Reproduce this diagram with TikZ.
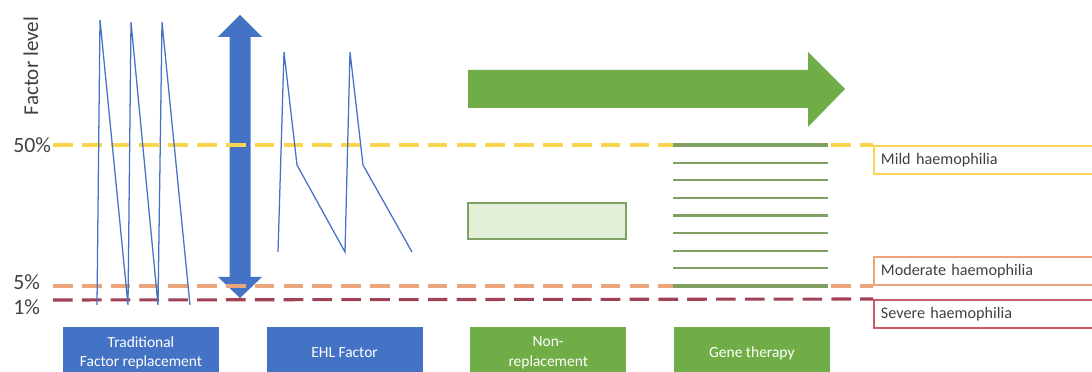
\documentclass[tikz,border=0pt]{standalone}
\usepackage{fontspec}
\setmainfont{Carlito}
\usetikzlibrary{positioning}
\definecolor{barblue}{HTML}{4472C4}
\definecolor{bargreen}{HTML}{70AD47}
\definecolor{palegreen}{HTML}{E2EFD9}
\definecolor{stripgreen}{RGB}{128,160,98}
\definecolor{mildyellow}{RGB}{250,214,80}
\definecolor{modorange}{RGB}{235,165,125}
\definecolor{sevred}{RGB}{160,65,85}
\definecolor{sevbox}{RGB}{200,90,100}
\definecolor{labelgray}{HTML}{404040}
\tikzstyle{catbox} = [minimum width=3.9cm, minimum height=1.3cm, inner sep=0pt,
    text=white, align=center, font=\fontsize{11}{14}\selectfont]
\tikzstyle{levelbox} = [line width=1.1pt, fill=white, anchor=north west,
    text width=6cm, minimum height=0.7cm, inner xsep=0.18cm, align=left,
    text=labelgray, font=\fontsize{11.5}{13}\selectfont]
\tikzstyle{pct} = [anchor=west, inner sep=0pt, text=labelgray,
    font=\fontsize{15.5}{17}\selectfont]
\tikzstyle{levelline} = [line width=2.2pt, dash pattern=on 14pt off 6.5pt]
\tikzstyle{trace} = [barblue, line width=0.9pt]
\tikzstyle{strip} = [stripgreen, line width=1.5pt]

\begin{document}
\begin{tikzpicture}[x=0.025cm, y=-0.025cm]
    \useasboundingbox (0,0) rectangle (1092,372);
    \clip (0,0) rectangle (1092,372);
    % axis labels
    \node [rotate=90, text=labelgray, font=\fontsize{15}{17}\selectfont] (ylabel) at (31,66) {Factor level};
    \node [pct] (p50) at (13,145) {50\%};
    \node [pct] (p5) at (13,282) {5\%};
    \node [pct] (p1) at (13,307) {1\%};
    % range arrow
    \fill [barblue] (240,15) -- (262,37) -- (250.5,37) -- (250.5,277) -- (262,277)
        -- (240,298) -- (218,277) -- (229.5,277) -- (229.5,37) -- (218,37) -- cycle;
    % severity boxes
    \node [levelbox, draw=mildyellow] (mild) at (873,145) {Mild haemophilia};
    \node [levelbox, draw=modorange, anchor=south west] (moderate) at (873,286) {Moderate haemophilia};
    \node [levelbox, draw=sevbox] (severe) at (873,299) {Severe haemophilia};
    % threshold lines
    \draw [levelline, mildyellow] (53,145) -- (mild.north west);
    \draw [levelline, modorange] (53,286) -- (moderate.south west);
    \draw [levelline, sevred] (53,300) -- (severe.north west);
    % factor traces
    \draw [trace] (97,305) -- (100,20) -- (128,305) -- (131,22) -- (158,305)
        -- (162,22) -- (190,305);
    \draw [trace] (278,252) -- (284,52) -- (297,165) -- (345,252) -- (350,52)
        -- (363,165) -- (412,252);
    % gene therapy levels
    \foreach \i in {1,...,7} {
        \pgfmathsetmacro{\ylev}{145+17.625*\i}
        \draw [strip] (673,\ylev) -- (828,\ylev);
    }
    \draw [strip, line width=2.3pt] (673,145) -- (828,145);
    \draw [strip, line width=2.3pt] (673,286) -- (828,286);
    % non-replacement band
    \node [draw=stripgreen, line width=1.2pt, fill=palegreen, minimum width=3.95cm,
        minimum height=0.9cm] (band) at (547,221) {};
    % trend arrow
    \fill [bargreen] (468,70) -- (808,70) -- (808,52) -- (845,89) -- (808,127)
        -- (808,108) -- (468,108) -- cycle;
    % categories
    \node [catbox, fill=barblue] (trad) at (141,353) {Traditional\\Factor replacement};
    \node [catbox, fill=barblue, right=1.175cm of trad] (ehl) {EHL Factor};
    \node [catbox, fill=bargreen, right=1.175cm of ehl] (nonrep) {Non-\\replacement};
    \node [catbox, fill=bargreen, right=1.175cm of nonrep] (gene) {Gene therapy};
\end{tikzpicture}
\end{document}
